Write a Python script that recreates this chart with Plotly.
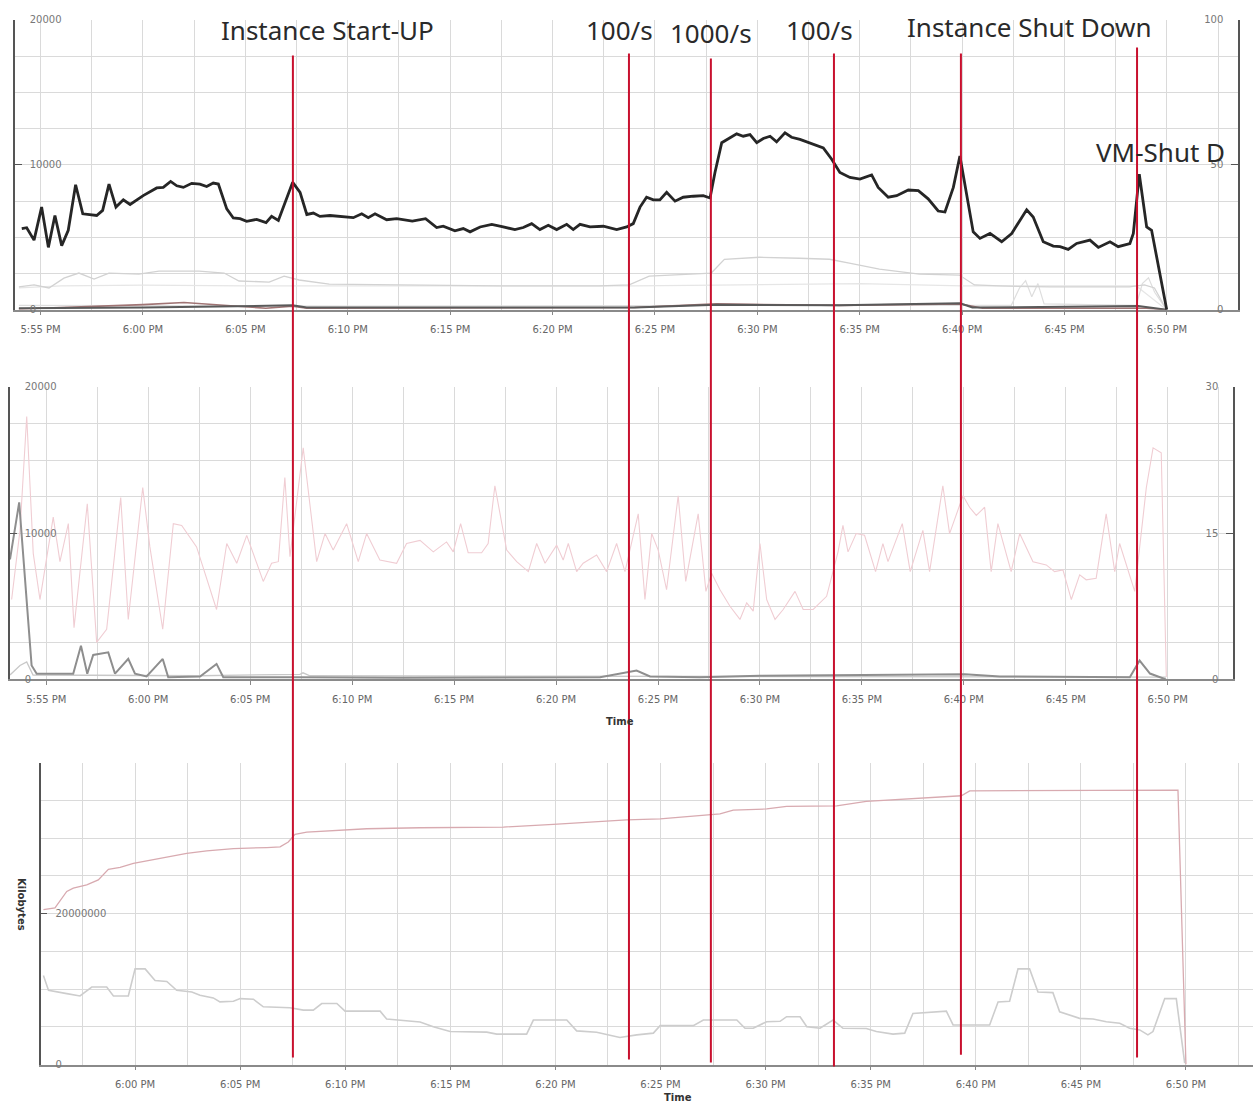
import pandas as pd
import plotly.graph_objects as go

W, H = 1253, 1120
BASE = pd.Timestamp("2013-05-01 18:00:00")


def tt(mins):
    return [BASE + pd.Timedelta(minutes=float(m)) for m in mins]


# ---------------- data (minutes relative to 6:00 PM, value) ----------------
# Top panel
top_black = [(-5.92, 5600), (-5.68, 5660), (-5.32, 4800), (-4.95, 7080), (-4.62, 4300), (-4.30, 6500),
             (-3.97, 4420), (-3.65, 5480), (-3.29, 8620), (-2.94, 6620), (-2.26, 6500), (-1.97, 6850),
             (-1.66, 8670), (-1.32, 7080), (-0.96, 7580), (-0.63, 7260), (0.01, 7870), (0.67, 8400),
             (0.99, 8440), (1.35, 8850), (1.65, 8550), (1.97, 8440), (2.38, 8720), (2.78, 8670),
             (3.11, 8500), (3.43, 8740), (3.68, 8670), (4.09, 6960), (4.41, 6330), (4.74, 6280),
             (5.06, 6100), (5.55, 6230), (6.01, 6010), (6.28, 6440), (6.61, 6160), (7.31, 8790),
             (7.67, 8100), (8.00, 6570), (8.32, 6670), (8.64, 6440), (9.13, 6500), (9.78, 6400),
             (10.27, 6350), (10.68, 6620), (11.00, 6350), (11.33, 6620), (11.90, 6210), (12.39, 6280),
             (13.15, 6120), (13.80, 6280), (14.34, 5670), (14.66, 5760), (15.23, 5440), (15.64, 5600),
             (15.97, 5370), (16.46, 5710), (17.03, 5890), (17.59, 5710), (18.16, 5530), (18.57, 5670),
             (18.98, 5940), (19.38, 5530), (19.79, 5830), (20.20, 5530), (20.69, 5890), (21.01, 5530),
             (21.34, 5890), (21.83, 5710), (22.48, 5760), (23.13, 5530), (23.62, 5710), (23.94, 5940),
             (24.27, 7080), (24.59, 7760), (24.92, 7580), (25.24, 7580), (25.57, 8100), (25.98, 7490),
             (26.38, 7760), (26.87, 7830), (27.36, 7870), (27.69, 7710), (27.93, 9470), (28.26, 11520),
             (28.66, 11860), (28.99, 12130), (29.31, 11970), (29.64, 12080), (29.97, 11520), (30.29, 11810),
             (30.62, 11970), (30.94, 11580), (31.35, 12200), (31.67, 11900), (32.08, 11750), (32.73, 11400),
             (33.22, 11170), (33.63, 10380), (34.03, 9470), (34.52, 9130), (35.01, 9010), (35.58, 9300),
             (35.90, 8440), (36.39, 7760), (36.80, 7870), (37.37, 8260), (37.86, 8210), (38.34, 7650),
             (38.83, 6810), (39.16, 6740), (39.57, 8440), (39.89, 10600), (40.22, 7990), (40.54, 5370),
             (40.87, 4920), (41.36, 5260), (41.93, 4690), (42.42, 5260), (42.82, 6160), (43.15, 6890),
             (43.47, 6400), (43.96, 4690), (44.45, 4390), (44.78, 4350), (45.18, 4160), (45.59, 4570),
             (46.24, 4800), (46.65, 4300), (47.22, 4690), (47.62, 4350), (48.19, 4570), (48.36, 5260),
             (48.65, 9350), (49.01, 5710), (49.25, 5480), (49.99, 0)]

top_light = [(-6.06, 1570), (-5.32, 1710), (-4.59, 1500), (-3.86, 2180), (-3.13, 2530), (-2.39, 2120),
             (-1.66, 2530), (-0.20, 2460), (0.78, 2660), (2.74, 2660), (3.96, 2530), (4.69, 1980),
             (6.16, 1910), (6.89, 2320), (7.62, 2050), (9.09, 1770), (12.51, 1710), (17.39, 1640),
             (22.28, 1640), (23.74, 1710), (24.72, 2320), (27.16, 2460), (27.75, 2530), (28.39, 3480),
             (30.10, 3620), (32.05, 3550), (33.52, 3480), (34.49, 3210), (35.96, 2800), (37.91, 2460),
             (39.86, 2390), (40.60, 1710), (41.82, 1640), (44.26, 1570), (46.70, 1570), (48.17, 1570),
             (48.90, 1710), (49.39, 1500), (49.98, 0)]

top_faint = [(-6.06, 1500), (-4.0, 1640), (0.0, 1700), (5.0, 1640), (12.0, 1640), (24.0, 1640),
             (28.0, 1700), (35.0, 1800), (40.0, 1640), (44.0, 1640), (48.5, 1640), (49.98, 0)]

top_faint2 = [(-6.06, 300), (10.0, 250), (30.0, 300), (42.4, 300), (42.8, 1500), (43.1, 2000),
              (43.4, 900), (43.7, 1800), (44.0, 400), (48.5, 300), (48.8, 1800), (49.1, 2200),
              (49.4, 1200), (49.98, 0)]

top_dark = [(-6.06, 100), (0.0, 150), (7.3, 300), (8.0, 150), (24.0, 150), (28.0, 350), (34.0, 300),
            (39.9, 450), (40.5, 150), (48.6, 250), (49.98, 0)]

top_red = [(-6.06, 50), (-3.0, 200), (0.0, 350), (2.0, 500), (4.0, 300), (6.0, 100), (7.3, 250),
           (8.0, 100), (24.0, 150), (28.0, 400), (34.0, 300), (39.9, 400), (41.0, 100), (49.0, 100),
           (49.98, 0)]

# Middle panel
mid_pink = [(-6.70, 5460), (-6.29, 10190), (-5.96, 17970), (-5.64, 8620), (-5.31, 5460), (-4.66, 11090),
            (-4.33, 8050), (-3.92, 10650), (-3.64, 3540), (-2.99, 12000), (-2.53, 2530), (-2.04, 3430),
            (-1.35, 12440), (-0.98, 4100), (-0.27, 13120), (0.08, 9060), (0.71, 3430), (1.23, 10650),
            (1.64, 10530), (2.37, 9060), (3.35, 4780), (3.85, 9290), (4.34, 7940), (4.83, 9850),
            (5.64, 6700), (6.05, 7940), (6.38, 8050), (6.70, 13800), (6.95, 8390), (7.60, 15830),
            (8.26, 8050), (8.67, 9970), (9.07, 8840), (9.73, 10650), (10.30, 8050), (10.71, 9970),
            (11.36, 8160), (12.18, 7940), (12.67, 9290), (13.33, 9500), (13.98, 8720), (14.63, 9400),
            (14.96, 8720), (15.32, 10650), (15.69, 8660), (16.35, 8660), (16.67, 9290), (17.00, 13240),
            (17.58, 8840), (18.07, 8050), (18.64, 7370), (19.05, 9290), (19.46, 7940), (20.03, 9180),
            (20.35, 8160), (20.60, 9290), (21.01, 7370), (21.33, 7940), (21.99, 8500), (22.48, 7370),
            (22.97, 9290), (23.38, 7370), (24.03, 11320), (24.36, 5460), (24.69, 9970), (25.01, 8840),
            (25.42, 6130), (25.99, 12560), (26.36, 6700), (26.97, 11320), (27.35, 6020), (27.63, 7260),
            (28.04, 6130), (28.53, 5000), (29.02, 4100), (29.35, 5230), (29.67, 4670), (30.00, 9290),
            (30.33, 5460), (30.74, 4100), (31.14, 4780), (31.72, 6020), (32.12, 4780), (32.61, 4780),
            (33.27, 5680), (33.83, 8720), (34.07, 10530), (34.32, 8720), (34.72, 9970), (35.13, 9850),
            (35.67, 7370), (36.03, 9290), (36.28, 8050), (36.98, 10650), (37.37, 7370), (37.99, 10190),
            (38.32, 7370), (38.97, 13240), (39.30, 9970), (39.96, 12560), (40.28, 11770), (40.61, 11210),
            (41.02, 11770), (41.34, 7370), (41.67, 10650), (42.00, 9060), (42.32, 7370), (42.74, 9970),
            (43.39, 8050), (44.04, 7830), (44.45, 7370), (44.86, 7490), (45.27, 5460), (45.68, 7150),
            (46.00, 6810), (46.49, 6920), (46.98, 11320), (47.40, 7370), (47.64, 9290), (48.38, 6020),
            (48.95, 13120), (49.28, 15830), (49.68, 15490), (49.93, 160)]

mid_dark = [(-6.78, 8200), (-6.33, 12100), (-5.72, 950), (-5.47, 390), (-3.68, 390), (-3.30, 2300),
            (-2.99, 390), (-2.70, 1670), (-1.96, 1850), (-1.63, 390), (-0.98, 1400), (-0.65, 390),
            (-0.08, 200), (0.71, 1400), (0.98, 150), (2.54, 200), (3.35, 1060), (3.68, 150),
            (7.44, 150), (12.35, 120), (22.16, 150), (23.95, 610), (24.61, 200), (27.06, 150),
            (30.00, 250), (36.87, 300), (40.05, 350), (41.77, 200), (48.14, 150), (48.62, 1290),
            (49.13, 400), (49.91, 0)]

mid_light = [(-6.78, 300), (-6.29, 950), (-5.96, 1200), (-5.65, 300), (2.54, 250), (7.44, 350),
             (7.59, 450), (7.93, 250), (30.0, 200), (49.91, 150)]

# Bottom panel (Kilobytes)
bot_pink = [(-4.36, 20.55e6), (-3.81, 20.77e6), (-3.25, 22.95e6), (-2.94, 23.39e6), (-2.30, 23.83e6),
            (-1.75, 24.48e6), (-1.27, 25.88e6), (-0.71, 26.14e6), (-0.08, 26.67e6), (0.71, 27.10e6),
            (1.51, 27.54e6), (2.46, 27.98e6), (3.41, 28.33e6), (4.68, 28.63e6), (6.27, 28.76e6),
            (6.90, 28.85e6), (7.29, 29.51e6), (7.61, 30.52e6), (8.17, 30.82e6), (9.43, 31.04e6),
            (11.02, 31.26e6), (13.56, 31.39e6), (17.52, 31.48e6), (19.90, 31.83e6), (23.39, 32.44e6),
            (24.98, 32.56e6), (27.20, 33.01e6), (27.83, 33.22e6), (28.46, 33.74e6), (30.05, 33.88e6),
            (31.00, 34.23e6), (33.38, 34.30e6), (34.79, 34.89e6), (37.49, 35.32e6), (39.31, 35.63e6),
            (39.71, 36.28e6), (49.62, 36.37e6), (50.00, 0)]

bot_gray = [(-4.36, 11.8e6), (-4.12, 9.84e6), (-3.25, 9.40e6), (-2.62, 9.09e6), (-2.06, 10.27e6),
            (-1.35, 10.27e6), (-1.03, 9.09e6), (-0.32, 9.09e6), (0.00, 12.68e6), (0.48, 12.68e6),
            (0.95, 11.15e6), (1.51, 11.02e6), (1.98, 9.84e6), (2.70, 9.62e6), (3.09, 9.18e6),
            (3.72, 8.83e6), (4.04, 8.30e6), (4.68, 8.39e6), (5.00, 8.74e6), (5.63, 8.66e6),
            (6.10, 7.65e6), (7.37, 7.52e6), (8.01, 7.21e6), (8.48, 7.21e6), (8.88, 8.09e6),
            (9.60, 8.09e6), (9.99, 7.08e6), (11.66, 7.08e6), (11.97, 6.03e6), (12.61, 5.90e6),
            (13.56, 5.65e6), (14.19, 5.02e6), (14.99, 4.37e6), (16.73, 4.29e6), (17.21, 4.03e6),
            (18.63, 4.03e6), (18.95, 5.90e6), (20.54, 5.90e6), (21.01, 4.46e6), (21.96, 4.29e6),
            (23.07, 3.58e6), (23.87, 3.93e6), (24.66, 4.16e6), (24.98, 5.16e6), (26.56, 5.16e6),
            (27.04, 5.90e6), (28.63, 5.90e6), (29.02, 4.81e6), (29.41, 4.81e6), (30.05, 5.68e6),
            (30.69, 5.73e6), (31.00, 6.34e6), (31.64, 6.34e6), (31.96, 5.02e6), (32.59, 4.81e6),
            (33.21, 5.90e6), (33.68, 4.81e6), (34.79, 4.77e6), (35.27, 4.37e6), (36.06, 4.03e6),
            (36.62, 4.16e6), (37.01, 6.78e6), (37.96, 6.99e6), (38.60, 7.08e6), (38.92, 5.25e6),
            (40.66, 5.25e6), (41.06, 8.30e6), (41.61, 8.39e6), (42.01, 12.68e6), (42.56, 12.68e6),
            (42.96, 9.62e6), (43.67, 9.53e6), (43.99, 6.99e6), (44.94, 6.12e6), (45.58, 6.03e6),
            (46.21, 5.68e6), (46.85, 5.47e6), (47.32, 4.81e6), (47.80, 4.59e6), (48.19, 3.93e6),
            (48.43, 4.37e6), (48.99, 8.74e6), (49.54, 8.74e6), (49.94, 0.2e6)]

# Events (minutes after 6:00 PM on the top panel's time axis)
event_minutes = [7.32, 23.73, 27.73, 33.74, 39.94, 48.54]
event_labels = ["Instance Start-UP", "100/s", "1000/s", "100/s", "Instance Shut Down", "VM-Shut D"]


# ---------------- layout geometry (reference pixels) ----------------
def px_x(p):
    return p / W


def px_y(p):
    return 1 - p / H


fig = go.Figure()


def add_line(pairs, xa, ya, color, width):
    m, v = zip(*pairs)
    fig.add_trace(go.Scatter(x=tt(m), y=list(v), mode="lines", xaxis=xa, yaxis=ya,
                             line=dict(color=color, width=width), showlegend=False,
                             hoverinfo="skip"))


# top panel
add_line(top_faint, "x", "y", "#e6e6e6", 1.2)
add_line(top_faint2, "x", "y", "#dedede", 1.2)
add_line(top_light, "x", "y", "#d2d2d2", 1.3)
add_line(top_red, "x", "y", "#a07474", 1.6)
add_line(top_dark, "x", "y", "#5a5a5a", 2)
add_line(top_black, "x", "y", "#262626", 2.8)
fig.add_trace(go.Scatter(x=tt([0]), y=[None], xaxis="x", yaxis="y2", showlegend=False))

# middle
add_line(mid_pink, "x2", "y3", "#f0cdd3", 1.1)
add_line(mid_light, "x2", "y3", "#c8c8c8", 1.3)
add_line(mid_dark, "x2", "y3", "#8e8e8e", 2)
fig.add_trace(go.Scatter(x=tt([0]), y=[None], xaxis="x2", yaxis="y4", showlegend=False))

# bottom
add_line(bot_pink, "x3", "y5", "#d8aab0", 1.3)
add_line(bot_gray, "x3", "y5", "#cdcdcd", 1.6)

GRID = "#dadada"
TICKFONT = dict(family="DejaVu Sans", size=10, color="#666")


def xaxis_cfg(dom, rng, anchor):
    return dict(domain=dom, range=tt(rng), anchor=anchor, type="date",
                tick0=BASE - pd.Timedelta(minutes=5), dtick=300000,
                tickformat="%-I:%M %p", tickfont=TICKFONT,
                showgrid=True, gridcolor=GRID, gridwidth=1,
                minor=dict(dtick=150000, showgrid=True, gridcolor=GRID, ticks=""),
                ticks="outside", ticklen=4, tickcolor="#888",
                showline=True, linecolor="#8a8a8a", linewidth=1.5,
                zeroline=False, ticklabelstandoff=6, ticklabeloverflow="allow")


def yaxis_cfg(dom, rng, dtick, minor, side="left", overlay=None, anchor=None, grid=True, tickvals=None):
    d = dict(domain=dom, range=rng, side=side, tickfont=dict(family="DejaVu Sans", size=10, color="#777"),
             ticks="inside", ticklen=7, tickcolor="#555", ticklabelposition="inside",
             ticklabeloverflow="allow", ticklabelstandoff=7,
             showline=True, linecolor="#555", linewidth=1.5, zeroline=False,
             tickformat="d", showgrid=grid, gridcolor=GRID)
    if tickvals is not None:
        d.update(tickmode="array", tickvals=tickvals)
    else:
        d.update(dtick=dtick, tick0=0)
    if minor:
        d["minor"] = dict(dtick=minor, showgrid=True, gridcolor=GRID, ticks="")
    if overlay:
        d["overlaying"] = overlay
    if anchor:
        d["anchor"] = anchor
    return d


fig.update_layout(
    width=W, height=H, margin=dict(l=0, r=0, t=0, b=0),
    paper_bgcolor="white", plot_bgcolor="white",
    xaxis=xaxis_cfg([px_x(15), px_x(1238)], [-6.25, 53.47], "y"),
    yaxis=yaxis_cfg([px_y(307), px_y(14)], [0, 20000], 10000, 2500, anchor="x"),
    yaxis2=yaxis_cfg([px_y(307), px_y(14)], [0, 100], 50, None, side="right", overlay="y",
                     anchor="x", grid=False),
    xaxis2=xaxis_cfg([px_x(10), px_x(1233)], [-6.78, 53.20], "y3"),
    yaxis3=yaxis_cfg([px_y(680.7), px_y(385)], [0, 20000], 10000, 2500, anchor="x2"),
    yaxis4=yaxis_cfg([px_y(680.7), px_y(385)], [0, 30], 15, None, side="right", overlay="y3",
                     anchor="x2", grid=False),
    xaxis3=xaxis_cfg([px_x(40.7), 1.0], [-4.49, 53.19], "y5"),
    yaxis5=yaxis_cfg([px_y(1070), px_y(765)], [0, 40000000], None, 5000000, anchor="x3",
                     tickvals=[0, 20000000]),
)

# red event lines spanning all panels
line_tops = [50, 48, 53, 48, 48, 42]
line_bottoms = [1063, 1065, 1068, 1072, 1060, 1063]
for m, yt, yb in zip(event_minutes, line_tops, line_bottoms):
    xv = tt([m])[0]
    fig.add_shape(type="line", xref="x", yref="paper", x0=xv, x1=xv,
                  y0=px_y(yb), y1=px_y(yt), line=dict(color="#c8102e", width=2), layer="above")

label_shift = [35, -9, 0, -14, 69, 23]
label_y = [24, 24, 27, 24, 21, 148]
for m, txt, sh, ly in zip(event_minutes, event_labels, label_shift, label_y):
    fig.add_annotation(x=tt([m])[0], xref="x", y=px_y(ly), yref="paper", text=txt,
                       showarrow=False, xshift=sh, xanchor="center", yanchor="middle",
                       font=dict(family="Noto Sans", size=26, color="#2a2a2a"))

# axis titles
fig.add_annotation(x=px_x(620), y=px_y(723), xref="paper", yref="paper", text="<b>Time</b>",
                   showarrow=False, font=dict(family="DejaVu Sans", size=10, color="#333"))
fig.add_annotation(x=px_x(678), y=px_y(1111), xref="paper", yref="paper", text="<b>Time</b>",
                   showarrow=False, font=dict(family="DejaVu Sans", size=10, color="#333"))
fig.add_annotation(x=px_x(14), y=px_y(937), xref="paper", yref="paper", text="<b>Kilobytes</b>",
                   showarrow=False, textangle=90, font=dict(family="DejaVu Sans", size=10, color="#333"))

# pin the figure to the window's top-left corner so the page is exactly the window size
post = ("var s='margin:0;padding:0;overflow:hidden;width:1253px;height:1120px;';"
        "document.documentElement.style.cssText=s;document.body.style.cssText=s;"
        "var g=document.getElementById('{plot_id}');"
        "g.style.position='fixed';g.style.left='0px';g.style.top='0px';")
fig.write_html("out.html", config={"displayModeBar": False}, post_script=post)
